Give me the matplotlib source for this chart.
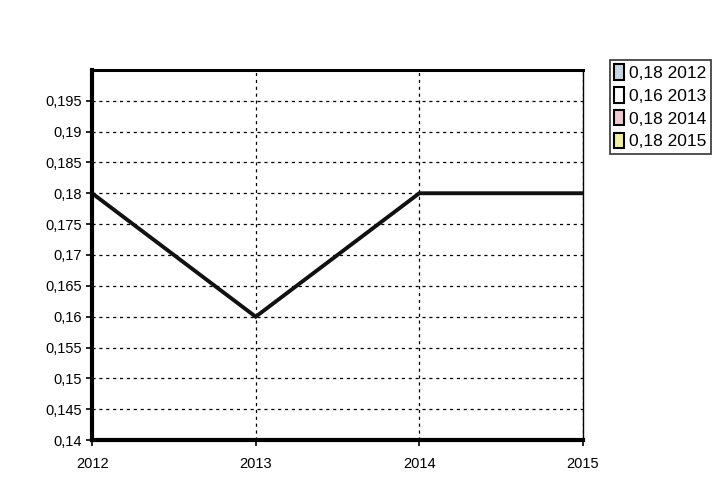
import matplotlib
matplotlib.use("Agg")
import matplotlib.pyplot as plt
from matplotlib.patches import Patch

years = [2012, 2013, 2014, 2015]
values = [0.18, 0.16, 0.18, 0.18]
yticks = [0.14, 0.145, 0.15, 0.155, 0.16, 0.165, 0.17, 0.175, 0.18, 0.185, 0.19, 0.195]
legend_colors = ["#c8d8e0", "#ffffff", "#f0c8d0", "#f0f0a0"]

plt.rcParams['font.family'] = ['Liberation Sans', 'DejaVu Sans']

fig = plt.figure(figsize=(7.25, 4.88), dpi=100)
ax = fig.add_axes([0.127, 0.098, 0.677, 0.759])

ax.plot(years, values, color="#111111", lw=2.8, solid_joinstyle="miter")

ax.set_xlim(2012, 2015)
ax.set_ylim(0.14, 0.2)
ax.set_xticks(years)
ax.set_yticks(yticks)
ax.set_yticklabels([("%g" % v).replace(".", ",") for v in yticks])
ax.set_xticklabels([str(y) for y in years])
ax.grid(True, color="black", ls=(0, (2.5, 3)), lw=0.9)
ax.tick_params(labelsize=10.5, direction="out", length=4, width=1.2, colors="black")
ax.tick_params(axis="x", pad=8)

ax.spines["left"].set_linewidth(3)
ax.spines["bottom"].set_linewidth(3)
ax.spines["top"].set_linewidth(2.2)
ax.spines["right"].set_linewidth(1)

handles = [Patch(facecolor=c, edgecolor="black", lw=1.5) for c in legend_colors]
labels = [("%g" % v).replace(".", ",") + " " + str(y) for v, y in zip(values, years)]
leg = fig.legend(handles, labels, loc="upper left", bbox_to_anchor=(0.841, 0.877),
                 frameon=True, fancybox=False, fontsize=12.5, handlelength=0.55,
                 handleheight=1.0, handletextpad=0.3, labelspacing=0.35,
                 borderpad=0.25, borderaxespad=0)
leg.get_frame().set_edgecolor("black")
leg.get_frame().set_linewidth(1.2)

fig.savefig("out.png", dpi=100, facecolor="white")
